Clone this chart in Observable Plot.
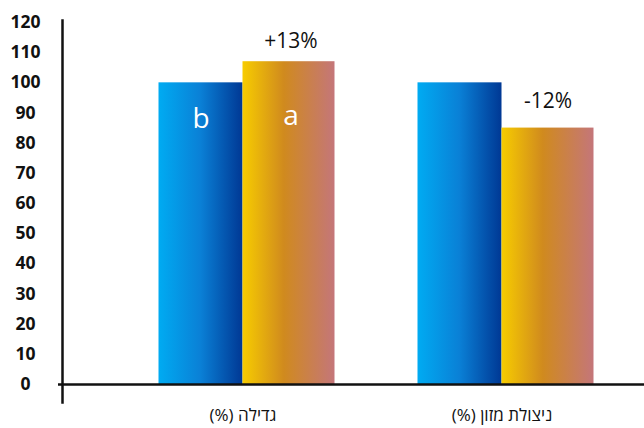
<!DOCTYPE html>
<html><head><meta charset="utf-8">
<script src="https://cdn.jsdelivr.net/npm/d3@7"></script>
<script src="https://cdn.jsdelivr.net/npm/@observablehq/plot@0.6"></script>
<style>
body{margin:0;background:#fff;}
#chart svg{display:block;}
#chart [aria-label="x-axis tick label"] text{direction:rtl;unicode-bidi:embed;}
</style>
</head><body><div id="chart"></div>
<script>
const categories = ["גדילה (%)", "ניצולת מזון (%)"];
const series = ["b", "a"];
const controlValues = [100, 100];
const treatmentValues = [107, 85];
const changeLabels = ["+13%", "-12%"];
const letterLabels = [["b", "a"], ["", ""]];
const yTicks = [0,10,20,30,40,50,60,70,80,90,100,110,120];

const control = categories.map((c,i)=>({cat:c, v:controlValues[i], letter:letterLabels[i][0]}));
const treat = categories.map((c,i)=>({cat:c, v:treatmentValues[i], letter:letterLabels[i][1], change:changeLabels[i]}));

const W = 644, H = 428;
const font = "'Open Sans', sans-serif";
const plot = Plot.plot({
  width: W, height: H,
  marginLeft: 62, marginRight: 0, marginTop: 20, marginBottom: 34,
  x: {type:"band", domain: categories, range:[112.5, 630.5], padding:0, label:null},
  y: {domain:[0,120], range:[384, 22], label:null},
  style: {fontFamily: font, background:"#fff"},
  marks: [
    Plot.barY(control, {x:"cat", y:"v", fill:"url(#gBlue)", insetLeft:45.5, insetRight:129.5}),
    Plot.barY(treat, {x:"cat", y:"v", fill:"url(#gOrange)", insetLeft:129.5, insetRight:37.5}),
    Plot.text(control, {x:"cat", y:"v", text:"letter", dx:-42, dy:36, fill:"#fff", fontSize:28, fontFamily:font}),
    Plot.text(treat, {x:"cat", y:"v", text:"letter", dx:48, dy:54, fill:"#fff", fontSize:28, fontFamily:font}),
    Plot.text(treat, {filter:d=>d.v>=100, x:"cat", y:"v", text:"change", dx:48, dy:-20, fill:"#111", fontSize:21, fontFamily:font}),
    Plot.text(treat, {filter:d=>d.v<100, x:"cat", y:"v", text:"change", dx:46, dy:-27, fill:"#111", fontSize:21, fontFamily:font}),
    Plot.frame({anchor:"left", stroke:"#111", strokeWidth:2.5, insetBottom:-8}),
    Plot.ruleY([0], {stroke:"#111", strokeWidth:2.5, insetLeft:-4}),
    Plot.axisY({ticks:yTicks, tickSize:0, textAnchor:"middle", dx:-1, tickPadding:36, fontSize:17.5, fontWeight:"bold", fill:"#111", fontFamily:font}),
    Plot.axisX({tickSize:0, tickPadding:14, fontSize:17, fill:"#111", fontFamily:font})
  ]
});
const ns = "http://www.w3.org/2000/svg";
const defs = document.createElementNS(ns, "defs");
defs.innerHTML = `
<linearGradient id="gBlue" x1="0" x2="1" y1="0" y2="0">
  <stop offset="0" stop-color="#00abf2"/>
  <stop offset="0.5" stop-color="#0a80d6"/>
  <stop offset="1" stop-color="#003894"/>
</linearGradient>
<linearGradient id="gOrange" x1="0" x2="1" y1="0" y2="0">
  <stop offset="0" stop-color="#f7cc00"/>
  <stop offset="0.45" stop-color="#d08a1e"/>
  <stop offset="1" stop-color="#c4767a"/>
</linearGradient>`;
plot.insertBefore(defs, plot.firstChild);
document.getElementById("chart").appendChild(plot);
</script>
</body></html>
